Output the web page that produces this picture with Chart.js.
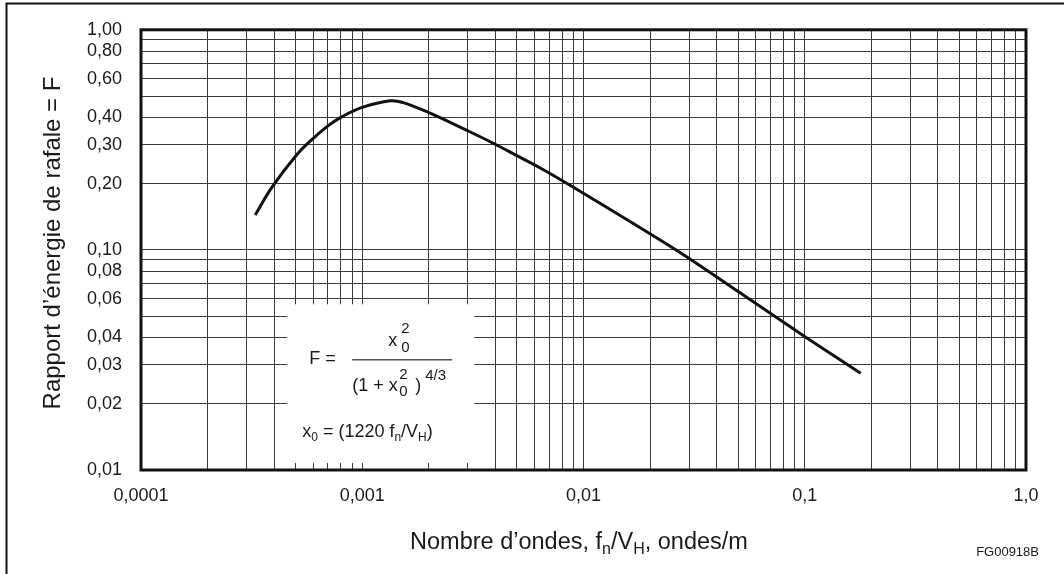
<!DOCTYPE html>
<html>
<head>
<meta charset="utf-8">
<script src="https://cdn.jsdelivr.net/npm/chart.js@4.4.0/dist/chart.umd.min.js"></script>
<style>
	html, body { margin: 0; padding: 0; background: #fff; }
	#wrap { width: 1064px; height: 574px; }
</style>
</head>
<body>
<div id="wrap"><canvas id="chart" width="1064" height="574"></canvas></div>
<script>
// curve: wave number f/V (x) against gust energy ratio F (y)
var waveNumbers = [0.000328, 0.000391, 0.000505, 0.000599, 0.0007, 0.0008, 0.001, 0.00134, 0.00153, 0.00199, 0.00299, 0.00379, 0.00502, 0.00638, 0.00873, 0.0205, 0.0305, 0.0502, 0.0778, 0.101, 0.179];
var gustRatio = [0.144, 0.193, 0.270, 0.3205, 0.366, 0.400, 0.444, 0.476, 0.467, 0.421, 0.348, 0.310, 0.2675, 0.2355, 0.196, 0.1165, 0.0905, 0.0645, 0.0479, 0.0401, 0.0275];

var xLabelValues = [0.0001, 0.001, 0.01, 0.1, 1];
var xLabels = ['0,0001', '0,001', '0,01', '0,1', '1,0'];
var yLabelValues = [0.01, 0.02, 0.03, 0.04, 0.06, 0.08, 0.1, 0.2, 0.3, 0.4, 0.6, 0.8, 1];
var yLabels = ['0,01', '0,02', '0,03', '0,04', '0,06', '0,08', '0,10', '0,20', '0,30', '0,40', '0,60', '0,80', '1,00'];

// white formula panel, corners in data units
var panelX = [0.000458, 0.00321];
var panelY = [0.01076, 0.0566];

var FONT = '"Liberation Sans", Arial, sans-serif';
var INK = '#1a1a1a';

function decadeGrid(fromExp, toExp){
	var out = [];
	for(var e = fromExp; e < toExp; e++){
		for(var m = 1; m < 10; m++) out.push(Number((m * Math.pow(10, e)).toPrecision(3)));
	}
	out.push(Math.pow(10, toExp));
	return out;
}

function labelFor(value, values, labels){
	for(var i = 0; i < values.length; i++){
		if(Math.abs(Math.log10(value) - Math.log10(values[i])) < 1e-6) return labels[i];
	}
	return '';
}

// draws a list of [text, size, dy] pieces left to right, returns end x
function drawRuns(ctx, x, y, runs){
	runs.forEach(function(r){
		ctx.font = r[1] + 'px ' + FONT;
		ctx.fillText(r[0], x, y + (r[2] || 0));
		x += ctx.measureText(r[0]).width;
	});
	return x;
}

function runsWidth(ctx, runs){
	var w = 0;
	runs.forEach(function(r){
		ctx.font = r[1] + 'px ' + FONT;
		w += ctx.measureText(r[0]).width;
	});
	return w;
}

var extrasPlugin = {
	id: 'extras',
	beforeDatasetsDraw: function(chart){
		var ctx = chart.ctx;
		var xs = chart.scales.x, ys = chart.scales.y;
		var left = xs.getPixelForValue(panelX[0]), right = xs.getPixelForValue(panelX[1]);
		var top = ys.getPixelForValue(panelY[1]), bottom = ys.getPixelForValue(panelY[0]);

		ctx.save();
		ctx.fillStyle = '#fff';
		ctx.fillRect(left, top, right - left, bottom - top);

		ctx.fillStyle = INK;
		ctx.textAlign = 'left';
		ctx.textBaseline = 'alphabetic';

		// F = x0^2 / (1 + x0^2)^(4/3)
		drawRuns(ctx, left + 22, top + 60, [['F =', 18]]);
		ctx.strokeStyle = '#555';
		ctx.lineWidth = 1.5;
		ctx.beginPath();
		ctx.moveTo(left + 65, top + 55.5);
		ctx.lineTo(left + 165, top + 55.5);
		ctx.stroke();

		drawRuns(ctx, left + 101, top + 42, [['x', 18]]);
		drawRuns(ctx, left + 114, top + 29, [['2', 15]]);
		drawRuns(ctx, left + 114, top + 48, [['0', 15]]);

		drawRuns(ctx, left + 65, top + 87, [['(1 + x', 18]]);
		drawRuns(ctx, left + 112, top + 75, [['2', 15]]);
		drawRuns(ctx, left + 112, top + 92, [['0', 15]]);
		drawRuns(ctx, left + 128, top + 87, [[')', 18]]);
		drawRuns(ctx, left + 138, top + 76, [['4/3', 15]]);

		// x0 = (1220 fn/VH)
		drawRuns(ctx, left + 15, top + 133, [
			['x', 18], ['0', 12, 4], [' = (1220 f', 18], ['n', 12, 4], ['/V', 18], ['H', 12, 4], [')', 18]
		]);
		ctx.restore();
	},
	afterDatasetsDraw: function(chart){
		var ctx = chart.ctx, a = chart.chartArea;
		ctx.save();

		// heavy frame round the plot
		ctx.strokeStyle = '#111';
		ctx.lineWidth = 3;
		ctx.strokeRect(a.left, a.top, a.right - a.left, a.bottom - a.top);

		// page rule on the left and top
		ctx.lineWidth = 2;
		ctx.beginPath();
		ctx.moveTo(6.5, chart.height);
		ctx.lineTo(6.5, 3.5);
		ctx.lineTo(chart.width, 3.5);
		ctx.stroke();

		ctx.fillStyle = INK;

		// y title
		ctx.save();
		ctx.translate(60, 243);
		ctx.rotate(-Math.PI / 2);
		ctx.textAlign = 'center';
		ctx.textBaseline = 'alphabetic';
		ctx.font = '24px ' + FONT;
		ctx.fillText('Rapport d\u2019énergie de rafale = F', 0, 0);
		ctx.restore();

		// x title with subscripts
		var runs = [['Nombre d\u2019ondes, f', 23.5], ['n', 16, 5], ['/V', 23.5], ['H', 16, 5], [', ondes/m', 23.5]];
		var w = runsWidth(ctx, runs);
		ctx.textAlign = 'left';
		ctx.textBaseline = 'alphabetic';
		drawRuns(ctx, 579 - w / 2, 549, runs);

		ctx.font = '13px ' + FONT;
		ctx.textAlign = 'right';
		ctx.fillText('FG00918B', 1039, 556);
		ctx.restore();
	}
};

var ctx = document.getElementById('chart').getContext('2d');
var points = waveNumbers.map(function(f, i){ return { x: f, y: gustRatio[i] }; });

var chart = new Chart(ctx, {
	type: 'line',
	data: {
		datasets: [{
			data: points,
			borderColor: '#111',
			borderWidth: 3,
			pointRadius: 0,
			fill: false,
			tension: 0.4
		}]
	},
	options: {
		responsive: false,
		animation: false,
		devicePixelRatio: 1,
		layout: { padding: { top: 29, right: 38, left: 0, bottom: 0 } },
		plugins: { legend: { display: false }, tooltip: { enabled: false } },
		scales: {
			x: {
				type: 'logarithmic',
				min: 0.0001,
				max: 1,
				afterFit: function(scale){ scale.height = 104; },
				afterBuildTicks: function(scale){
					scale.ticks = decadeGrid(-4, 0).map(function(v){ return { value: v }; });
				},
				grid: { color: '#3a3a3a', lineWidth: 1, drawTicks: false },
				border: { display: false },
				ticks: {
					autoSkip: false,
					maxRotation: 0,
					padding: 15,
					color: INK,
					font: { family: FONT, size: 18 },
					callback: function(value){ return labelFor(value, xLabelValues, xLabels); }
				}
			},
			y: {
				type: 'logarithmic',
				min: 0.01,
				max: 1,
				afterFit: function(scale){ scale.width = 141; },
				afterBuildTicks: function(scale){
					scale.ticks = decadeGrid(-2, 0).map(function(v){ return { value: v }; });
				},
				grid: { color: '#3a3a3a', lineWidth: 1, drawTicks: false },
				border: { display: false },
				ticks: {
					autoSkip: false,
					padding: 19,
					color: INK,
					font: { family: FONT, size: 18 },
					callback: function(value){ return labelFor(value, yLabelValues, yLabels); }
				}
			}
		}
	},
	plugins: [extrasPlugin]
});
</script>
</body>
</html>
